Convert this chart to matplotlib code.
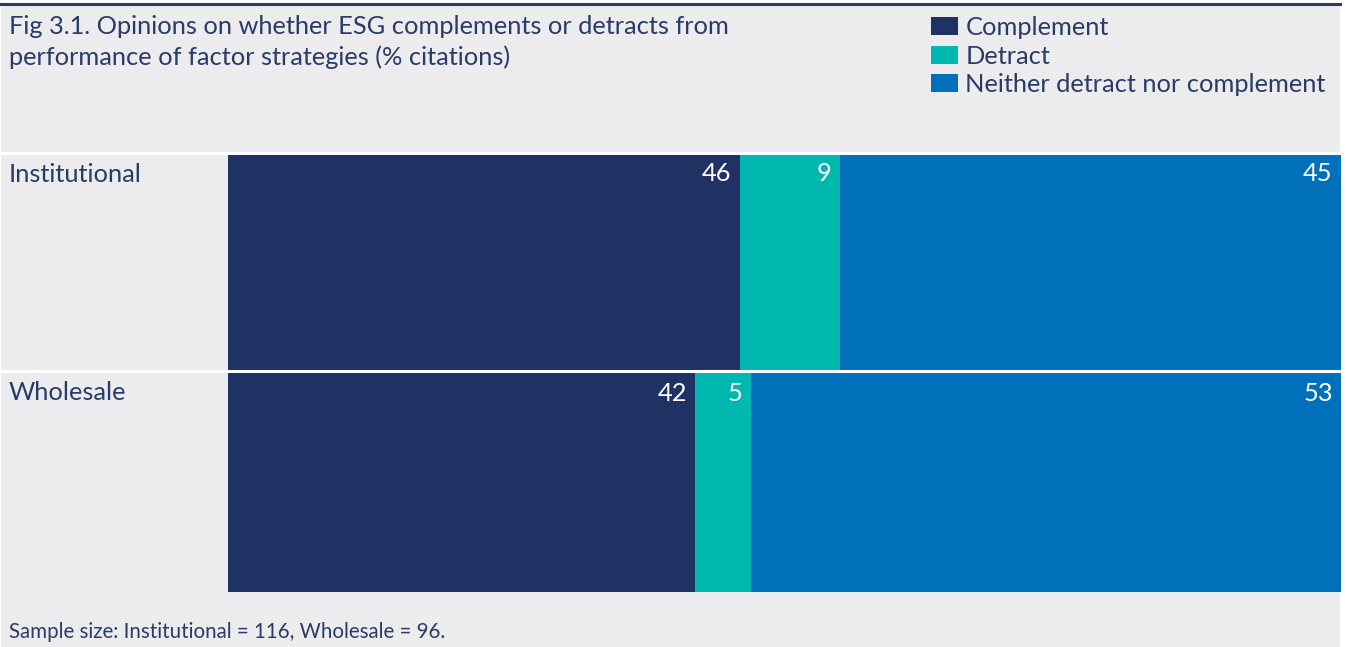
import matplotlib.pyplot as plt
from matplotlib.patches import Rectangle
from matplotlib.lines import Line2D

groups = ['Institutional', 'Wholesale']
series = ['Complement', 'Detract', 'Neither detract nor complement']
values = {
    'Complement': [46, 42],
    'Detract': [9, 5],
    'Neither detract nor complement': [45, 53],
}
colors = ['#203263', '#00B8B0', '#0070BA']
title_lines = ['Fig 3.1. Opinions on whether ESG complements or detracts from',
               'performance of factor strategies (% citations)']
note = 'Sample size: Institutional = 116, Wholesale = 96.'

W, H = 1348, 647
txt_color = '#2A3B66'
fs = 18.3
plt.rcParams['font.family'] = ['Lato', 'DejaVu Sans']

fig = plt.figure(figsize=(W / 100, H / 100), dpi=100)
fig.patch.set_facecolor('white')

def fx(px):
    return px / W

def fy(py):
    return 1 - py / H

# background panel and top rule
fig.patches.append(Rectangle((fx(1), fy(647)), fx(1340) - fx(1), fy(5) - fy(647),
                             transform=fig.transFigure, facecolor='#ECECEF', edgecolor='none', zorder=-1))
fig.lines.append(Line2D([fx(1), fx(1340)], [fy(4), fy(4)], transform=fig.transFigure,
                        color=txt_color, lw=2.2, zorder=1))

ax = fig.add_axes([fx(228), fy(592), fx(1341) - fx(228), fy(153) - fy(592)])
ax.set_zorder(3)
ax.set_facecolor('none')
ypos = [0, 1]
left = [0, 0]
for name, c in zip(series, colors):
    vals = values[name]
    ax.barh(ypos, vals, left=left, height=1.0, color=c, label=name, linewidth=0)
    for i, (l, v) in enumerate(zip(left, vals)):
        ax.annotate(str(v), xy=(l + v, ypos[i] - 0.5), xytext=(-6, -15), textcoords='offset points',
                    ha='right', va='center', color='white', fontsize=fs)
    left = [l + v for l, v in zip(left, vals)]
ax.set_xlim(0, 100)
ax.set_ylim(1.5, -0.5)
ax.axis('off')

# white separators across full width
for py in [153, 371]:
    fig.lines.append(Line2D([fx(1), fx(1340)], [fy(py), fy(py)], transform=fig.transFigure,
                            color='white', lw=2.2, zorder=5))

for i, g in enumerate(groups):
    fig.text(fx(9), fy(174 + i * 219), g, ha='left', va='center', color=txt_color, fontsize=fs)

for i, line in enumerate(title_lines):
    fig.text(fx(9), fy(27 + i * 30), line, ha='left', va='center', color=txt_color, fontsize=fs)
fig.text(fx(9), fy(632), note, ha='left', va='center', color=txt_color, fontsize=14.8)

handles, labels = ax.get_legend_handles_labels()
fig.legend(handles, labels, loc='upper left', bbox_to_anchor=(fx(931), fy(16)), frameon=False,
           fontsize=fs, labelcolor=txt_color, handlelength=1.05, handleheight=0.7,
           handletextpad=0.3, labelspacing=0.22, borderpad=0, borderaxespad=0)

fig.savefig('out.png', dpi=100, facecolor=fig.get_facecolor())
